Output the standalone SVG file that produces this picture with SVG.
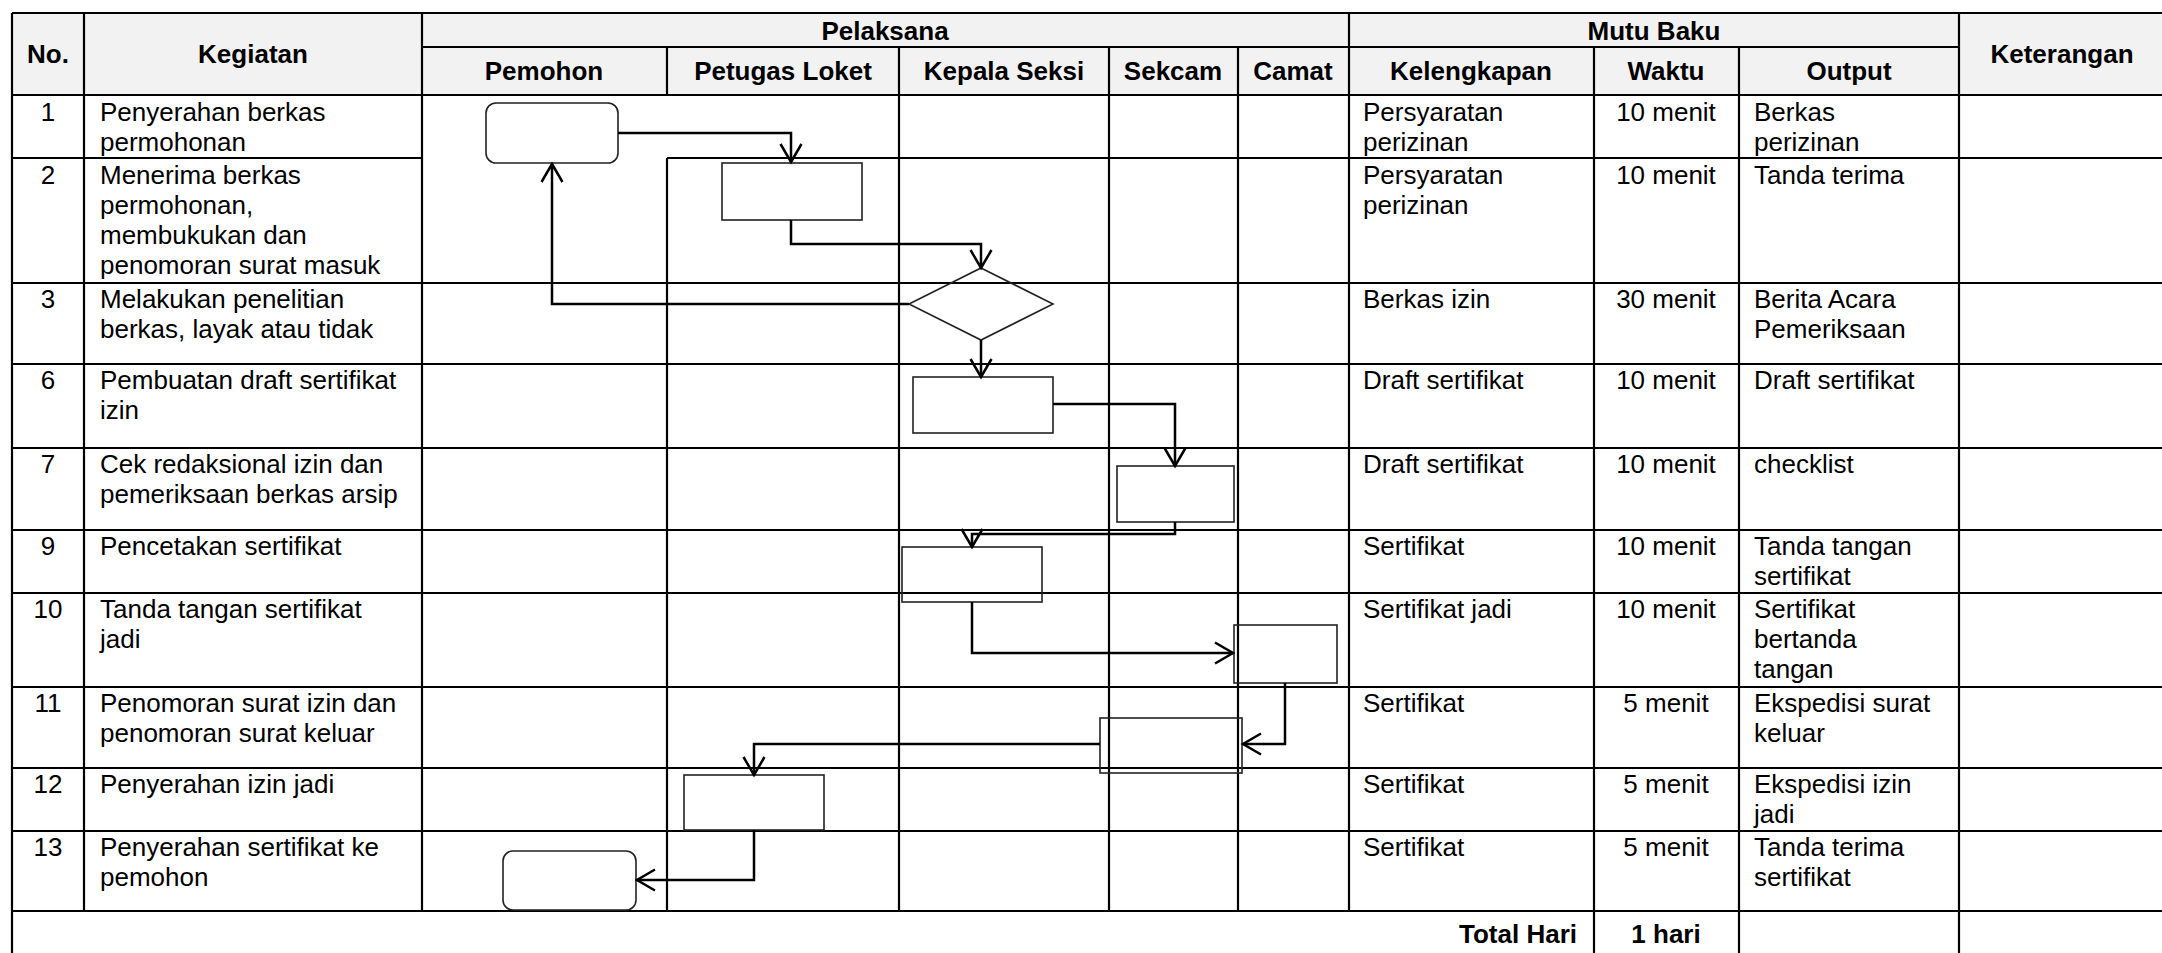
<svg xmlns="http://www.w3.org/2000/svg" width="2162" height="953" viewBox="0 0 2162 953">
<style>
text{font-family:"Liberation Sans",Arial,sans-serif;font-size:26px;fill:#000}
.b{font-weight:bold}
.c{text-anchor:middle}
.r{text-anchor:end}
.grid line{stroke:#000;stroke-width:2.2}
.shape{fill:none;stroke:#222;stroke-width:1.6}
.conn path{fill:none;stroke:#000;stroke-width:2.5;marker-end:url(#arr)}
</style>
<defs>
<marker id="arr" markerUnits="userSpaceOnUse" markerWidth="40" markerHeight="40" refX="0" refY="0" orient="auto" overflow="visible" viewBox="-30 -20 40 40">
<path d="M-18,-10.5 L0,0 L-18,10.5" fill="none" stroke="#000" stroke-width="2.5"/>
</marker>
</defs>
<rect x="0" y="0" width="2162" height="953" fill="#fff"/>
<rect x="12" y="13" width="2153" height="82" fill="#f2f2f2"/>
<g id="table" class="grid">
<line x1="12" y1="13" x2="2165" y2="13"/>
<line x1="422" y1="47" x2="1959" y2="47"/>
<line x1="12" y1="95" x2="2165" y2="95"/>
<line x1="12" y1="158" x2="422" y2="158"/>
<line x1="667" y1="158" x2="2165" y2="158"/>
<line x1="12" y1="283" x2="2165" y2="283"/>
<line x1="12" y1="364" x2="2165" y2="364"/>
<line x1="12" y1="448" x2="2165" y2="448"/>
<line x1="12" y1="530" x2="2165" y2="530"/>
<line x1="12" y1="593" x2="2165" y2="593"/>
<line x1="12" y1="687" x2="2165" y2="687"/>
<line x1="12" y1="768" x2="2165" y2="768"/>
<line x1="12" y1="831" x2="2165" y2="831"/>
<line x1="12" y1="911" x2="2165" y2="911"/>
<line x1="12" y1="13" x2="12" y2="953"/>
<line x1="84" y1="13" x2="84" y2="911"/>
<line x1="422" y1="13" x2="422" y2="911"/>
<line x1="667" y1="47" x2="667" y2="95"/>
<line x1="667" y1="158" x2="667" y2="911"/>
<line x1="899" y1="47" x2="899" y2="911"/>
<line x1="1109" y1="47" x2="1109" y2="911"/>
<line x1="1238" y1="47" x2="1238" y2="911"/>
<line x1="1349" y1="13" x2="1349" y2="911"/>
<line x1="1594" y1="47" x2="1594" y2="953"/>
<line x1="1739" y1="47" x2="1739" y2="953"/>
<line x1="1959" y1="13" x2="1959" y2="953"/>
</g>
<g id="headers">
<text class="b c" x="48" y="63">No.</text>
<text class="b c" x="253" y="63">Kegiatan</text>
<text class="b c" x="885" y="40">Pelaksana</text>
<text class="b c" x="1654" y="40">Mutu Baku</text>
<text class="b c" x="2062" y="63">Keterangan</text>
<text class="b c" x="544" y="80">Pemohon</text>
<text class="b c" x="783" y="80">Petugas Loket</text>
<text class="b c" x="1004" y="80">Kepala Seksi</text>
<text class="b c" x="1173" y="80">Sekcam</text>
<text class="b c" x="1293" y="80">Camat</text>
<text class="b c" x="1471" y="80">Kelengkapan</text>
<text class="b c" x="1666" y="80">Waktu</text>
<text class="b c" x="1849" y="80">Output</text>
</g>
<g id="row1">
<text class="c" x="48" y="121">1</text>
<text x="100" y="121">Penyerahan berkas</text><text x="100" y="151">permohonan</text>
<text x="1363" y="121">Persyaratan</text><text x="1363" y="151">perizinan</text>
<text class="c" x="1666" y="121">10 menit</text>
<text x="1754" y="121">Berkas</text><text x="1754" y="151">perizinan</text>
</g>
<g id="row2">
<text class="c" x="48" y="184">2</text>
<text x="100" y="184">Menerima berkas</text><text x="100" y="214">permohonan,</text><text x="100" y="244">membukukan dan</text><text x="100" y="274">penomoran surat masuk</text>
<text x="1363" y="184">Persyaratan</text><text x="1363" y="214">perizinan</text>
<text class="c" x="1666" y="184">10 menit</text>
<text x="1754" y="184">Tanda terima</text>
</g>
<g id="row3">
<text class="c" x="48" y="308">3</text>
<text x="100" y="308">Melakukan penelitian</text><text x="100" y="338">berkas, layak atau tidak</text>
<text x="1363" y="308">Berkas izin</text>
<text class="c" x="1666" y="308">30 menit</text>
<text x="1754" y="308">Berita Acara</text><text x="1754" y="338">Pemeriksaan</text>
</g>
<g id="row6">
<text class="c" x="48" y="389">6</text>
<text x="100" y="389">Pembuatan draft sertifikat</text><text x="100" y="419">izin</text>
<text x="1363" y="389">Draft sertifikat</text>
<text class="c" x="1666" y="389">10 menit</text>
<text x="1754" y="389">Draft sertifikat</text>
</g>
<g id="row7">
<text class="c" x="48" y="473">7</text>
<text x="100" y="473">Cek redaksional izin dan</text><text x="100" y="503">pemeriksaan berkas arsip</text>
<text x="1363" y="473">Draft sertifikat</text>
<text class="c" x="1666" y="473">10 menit</text>
<text x="1754" y="473">checklist</text>
</g>
<g id="row9">
<text class="c" x="48" y="555">9</text>
<text x="100" y="555">Pencetakan sertifikat</text>
<text x="1363" y="555">Sertifikat</text>
<text class="c" x="1666" y="555">10 menit</text>
<text x="1754" y="555">Tanda tangan</text><text x="1754" y="585">sertifikat</text>
</g>
<g id="row10">
<text class="c" x="48" y="618">10</text>
<text x="100" y="618">Tanda tangan sertifikat</text><text x="100" y="648">jadi</text>
<text x="1363" y="618">Sertifikat jadi</text>
<text class="c" x="1666" y="618">10 menit</text>
<text x="1754" y="618">Sertifikat</text><text x="1754" y="648">bertanda</text><text x="1754" y="678">tangan</text>
</g>
<g id="row11">
<text class="c" x="48" y="712">11</text>
<text x="100" y="712">Penomoran surat izin dan</text><text x="100" y="742">penomoran surat keluar</text>
<text x="1363" y="712">Sertifikat</text>
<text class="c" x="1666" y="712">5 menit</text>
<text x="1754" y="712">Ekspedisi surat</text><text x="1754" y="742">keluar</text>
</g>
<g id="row12">
<text class="c" x="48" y="793">12</text>
<text x="100" y="793">Penyerahan izin jadi</text>
<text x="1363" y="793">Sertifikat</text>
<text class="c" x="1666" y="793">5 menit</text>
<text x="1754" y="793">Ekspedisi izin</text><text x="1754" y="823">jadi</text>
</g>
<g id="row13">
<text class="c" x="48" y="856">13</text>
<text x="100" y="856">Penyerahan sertifikat ke</text><text x="100" y="886">pemohon</text>
<text x="1363" y="856">Sertifikat</text>
<text class="c" x="1666" y="856">5 menit</text>
<text x="1754" y="856">Tanda terima</text><text x="1754" y="886">sertifikat</text>
</g>
<g id="total">
<text class="b r" x="1577" y="943">Total Hari</text>
<text class="b c" x="1666" y="943">1 hari</text>
</g>
<g id="n1"><rect class="shape" x="486" y="103" width="132" height="60" rx="10"/></g>
<g id="n2"><rect class="shape" x="722" y="163" width="140" height="57"/></g>
<g id="n3"><path class="shape" d="M981,268 L1053,304 L981,340 L909,304 Z"/></g>
<g id="n6"><rect class="shape" x="913" y="377" width="140" height="56"/></g>
<g id="n7"><rect class="shape" x="1117" y="466" width="117" height="56"/></g>
<g id="n9"><rect class="shape" x="902" y="547" width="140" height="55"/></g>
<g id="n10"><rect class="shape" x="1234" y="625" width="103" height="58"/></g>
<g id="n11"><rect class="shape" x="1100" y="718" width="142" height="55"/></g>
<g id="n12"><rect class="shape" x="684" y="775" width="140" height="55"/></g>
<g id="n13"><rect class="shape" x="503" y="851" width="133" height="59" rx="10"/></g>
<g id="connectors" class="conn">
<path d="M618,133 H791 V162"/>
<path d="M791,220 V244 H981 V268"/>
<path d="M909,304 H552 V164"/>
<path d="M981,340 V377"/>
<path d="M1053,404 H1175 V466"/>
<path d="M1175,522 V534 H972 V547"/>
<path d="M972,602 V653 H1233"/>
<path d="M1285,683 V744 H1243"/>
<path d="M1100,744 H754 V775"/>
<path d="M754,830 V880 H637"/>
</g>
</svg>
